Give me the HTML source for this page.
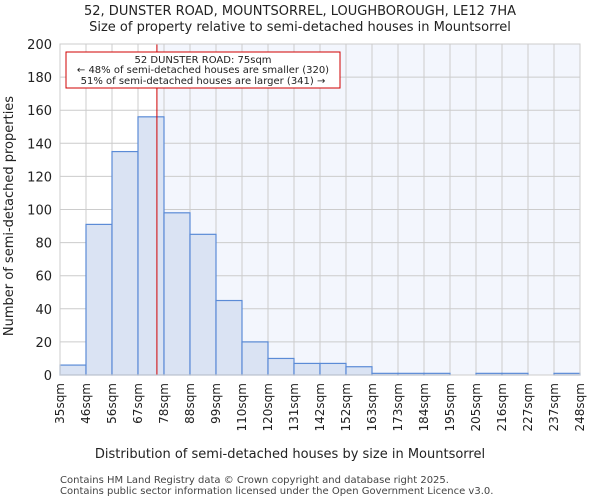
<!DOCTYPE html>
<html><head><meta charset="utf-8"><style>body{margin:0;background:#fff}svg{display:block;font-family:"DejaVu Sans","Liberation Sans",sans-serif}</style></head><body>
<svg id="c" width="600" height="500"></svg>
<script>
const categories=["35sqm","46sqm","56sqm","67sqm","78sqm","88sqm","99sqm","110sqm","120sqm","131sqm","142sqm","152sqm","163sqm","173sqm","184sqm","195sqm","205sqm","216sqm","227sqm","237sqm","248sqm"];
const counts=[6,91,135,156,98,85,45,20,10,7,7,5,1,1,1,0,1,1,0,1];
const yTicks=[0,20,40,60,80,100,120,140,160,180,200];
const binEdges=[35,46,56,67,78,88,99,110,120,131,142,152,163,173,184,195,205,216,227,237,248];
const marker=75;
const L=60,R=580,T=44,B=375;
const svg=document.getElementById('c');const NS='http://www.w3.org/2000/svg';
function mk(t,a,p){const e=document.createElementNS(NS,t);for(const k in a)e.setAttribute(k,a[k]);(p||svg).appendChild(e);return e;}
const bw=(R-L)/counts.length;
const xi=i=>L+i*bw;
const y=v=>B-(v/200)*(B-T);
function xv(v){for(let i=0;i<binEdges.length-1;i++){if(v<=binEdges[i+1])return xi(i)+(v-binEdges[i])/(binEdges[i+1]-binEdges[i])*bw;}return R;}
const mx=xv(marker);
let e;
e=mk('rect',{x:L,y:T,width:R-L,height:B-T,fill:'#ffffff'});
e=mk('rect',{x:mx,y:T,width:R-mx,height:B-T,fill:'#f3f6fd'});
for(const t of yTicks){e=mk('line',{x1:L,x2:R,y1:y(t),y2:y(t),stroke:'#cccccc'});
e=mk('text',{x:L-8,y:y(t)+5,'text-anchor':'end','font-size':13,fill:'#222'});e.textContent=t;}
categories.forEach((c,i)=>{const x=xi(i);e=mk('line',{x1:x,x2:x,y1:T,y2:B,stroke:'#cccccc'});
e=mk('text',{x:x+4,y:B+8,'text-anchor':'end','font-size':12,fill:'#222',transform:`rotate(-90 ${x+4} ${B+8})`});e.textContent=c;});
counts.forEach((v,i)=>{e=mk('rect',{x:xi(i),y:y(v),width:bw,height:B-y(v),fill:'#dae3f3',stroke:'#5b8bd6','stroke-width':1.2});});
e=mk('line',{x1:mx,x2:mx,y1:T,y2:B,stroke:'#d00000','stroke-width':1});
e=mk('rect',{x:66,y:52,width:274,height:36,fill:'#fff',stroke:'#d00000'});
[["52 DUNSTER ROAD: 75sqm",63],["← 48% of semi-detached houses are smaller (320)",73],["51% of semi-detached houses are larger (341) →",84]].forEach(([t,yy])=>{e=mk('text',{x:203,y:yy,'text-anchor':'middle','font-size':10,fill:'#222'});e.textContent=t;});
e=mk('rect',{x:L,y:T,width:R-L,height:B-T,fill:'none',stroke:'#cccccc'});
[["52, DUNSTER ROAD, MOUNTSORREL, LOUGHBOROUGH, LE12 7HA",15,'chart-title'],["Size of property relative to semi-detached houses in Mountsorrel",31,'chart-subtitle']].forEach(([t,yy,n])=>{e=mk('text',{x:300,y:yy,'text-anchor':'middle','font-size':13,fill:'#222'});e.textContent=t;});
e=mk('text',{x:290,y:458,'text-anchor':'middle','font-size':13,fill:'#222'});e.textContent="Distribution of semi-detached houses by size in Mountsorrel";
e=mk('text',{x:13,y:216,'text-anchor':'middle','font-size':13,fill:'#222',transform:'rotate(-90 13 216)'});e.textContent="Number of semi-detached properties";
[["Contains HM Land Registry data © Crown copyright and database right 2025.",483],["Contains public sector information licensed under the Open Government Licence v3.0.",494]].forEach(([t,yy])=>{e=mk('text',{x:60,y:yy,'font-size':10,fill:'#444'});e.textContent=t;});
</script></body></html>
